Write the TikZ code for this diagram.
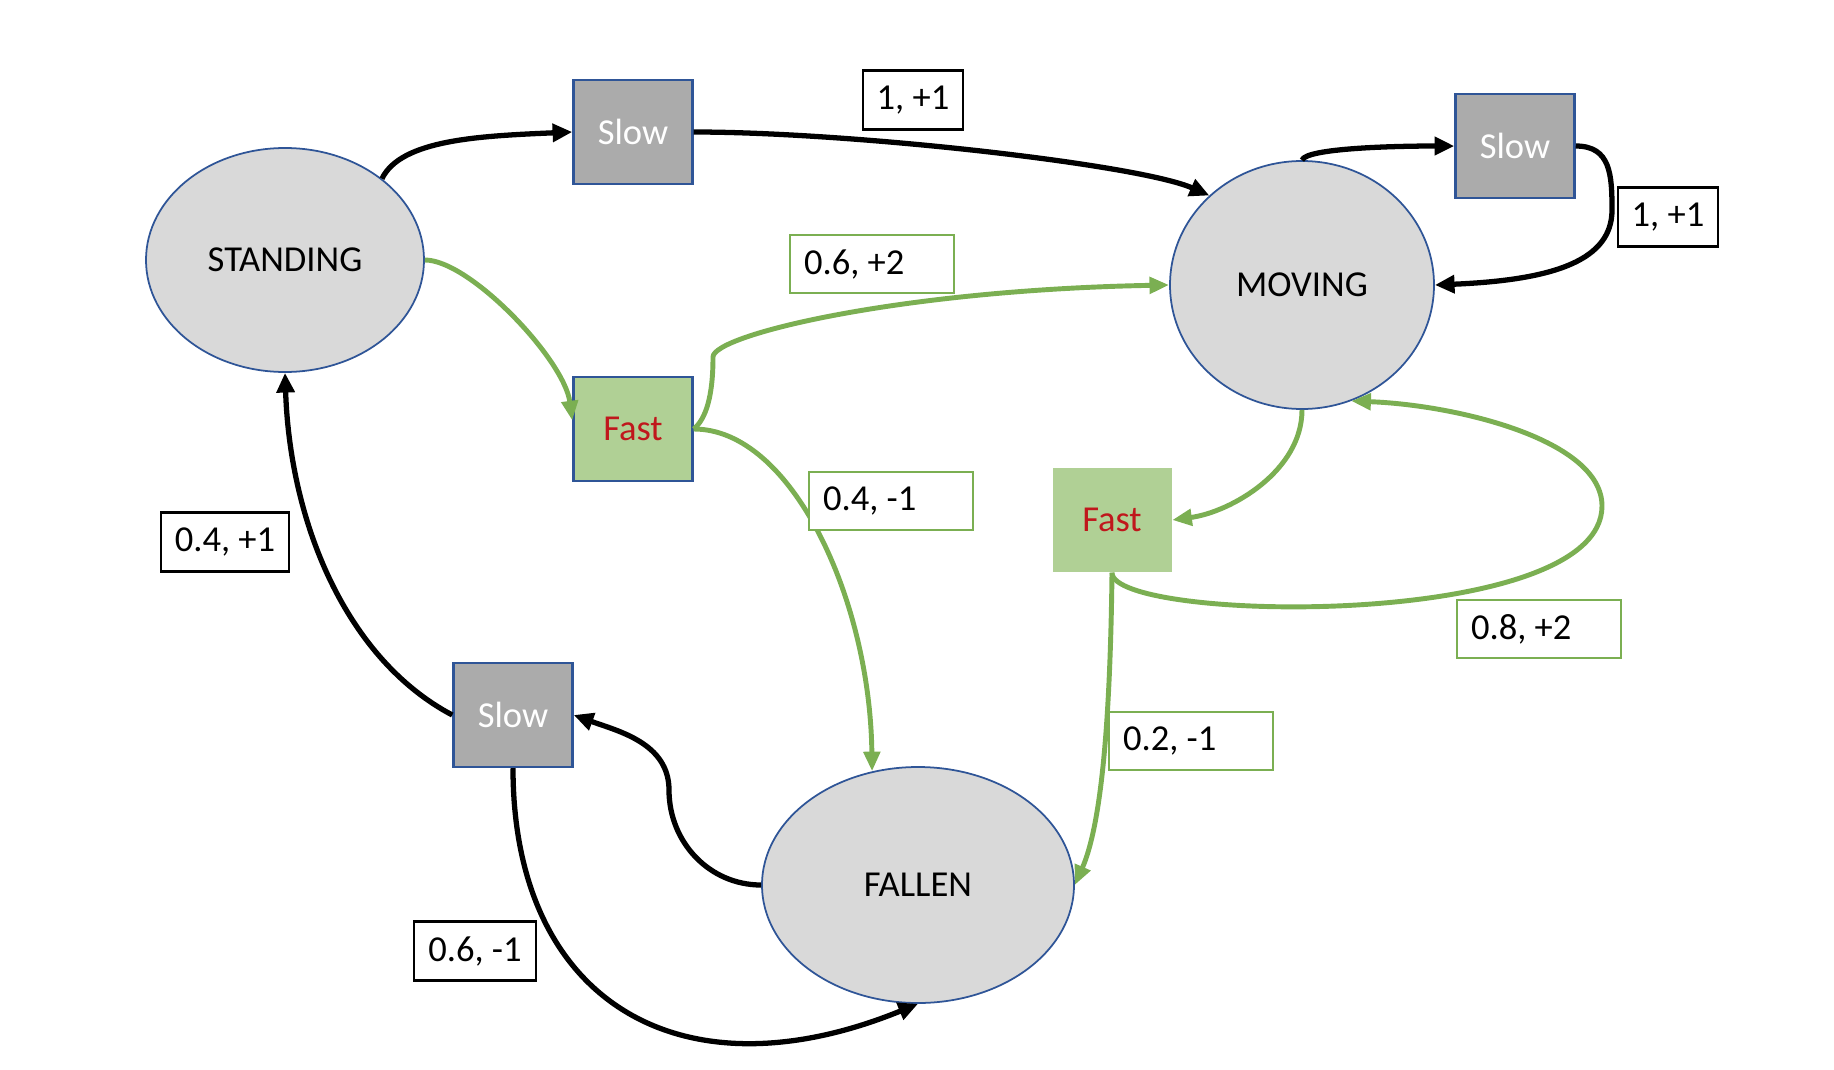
\documentclass[tikz,border=0pt]{standalone}
\usepackage{fontspec}
\setmainfont{Carlito}
\usetikzlibrary{arrows.meta,shapes.geometric}
\definecolor{stateblue}{HTML}{2F5597}
\definecolor{stategray}{HTML}{D9D9D9}
\definecolor{slowgray}{HTML}{ABABAB}
\definecolor{fastgreen}{HTML}{B0D095}
\definecolor{linkgreen}{HTML}{7BAF52}
\definecolor{fastred}{HTML}{C0171C}

\begin{document}
\begin{tikzpicture}[x=0.1mm,y=-0.1mm,
		every node/.style={font=\fontsize{10.4}{12.5}\selectfont\frenchspacing},
		state/.style={ellipse,draw=stateblue,line width=0.5pt,fill=stategray,inner sep=0pt},
		slowbox/.style={rectangle,draw=stateblue,line width=0.7pt,fill=slowgray,text=white,minimum width=11.9mm,minimum height=10.4mm},
		fastbox/.style={rectangle,fill=fastgreen,text=fastred,minimum width=11.9mm,minimum height=10.4mm},
		prob/.style={rectangle,draw=black,line width=0.6pt,fill=white,inner xsep=1.4mm,minimum height=5.9mm},
		gprob/.style={rectangle,draw=linkgreen,line width=0.6pt,fill=white,text width=13.6mm,align=flush left,inner xsep=1.4mm,minimum height=5.8mm},
		slowarr/.style={-{Triangle[length=5.6pt,width=5pt]},line width=1.5pt},
		fastarr/.style={-{Triangle[length=5.6pt,width=4.6pt]},line width=1.4pt,draw=linkgreen}]
		
		\useasboundingbox (0,0) rectangle (1834,1070);
		
		% States
		\node[state,minimum width=27.8mm,minimum height=22.4mm] (standing) at (285,260) {STANDING};
		\node[state,minimum width=26.4mm,minimum height=24.8mm] (moving) at (1302,285) {MOVING};
		\node[state,minimum width=31.2mm,minimum height=23.6mm] (fallen) at (918,885) {FALLEN};
		
		% Actions
		\node[slowbox] (slowS) at (633,132) {Slow};
		\node[slowbox] (slowM) at (1515,146) {Slow};
		\node[slowbox] (slowF) at (513,715) {Slow};
		\node[fastbox,draw=stateblue,line width=0.7pt] (fastS) at (633,429) {Fast};
		\node[fastbox] (fastM) at (1112,520) {Fast};
		
		% Bends of the longer curves
		\coordinate (rloop) at (1612,210);
		\coordinate (fbend) at (713,357);
		\coordinate (loopR) at (1602,506);
		\coordinate (sbend) at (669,790);
		
		% Slow transitions
		\draw[slowarr] (standing.40) .. controls +(19,-39) and +(-93,4) .. (slowS.west);
		\draw[slowarr] (slowS.east) .. controls +(158,0) and +(-70,-31) .. (moving.136);
		\draw[slowarr] (moving.north) .. controls +(4,-12) and +(-60,0) .. (slowM.west);
		\draw[slowarr] (slowM.east) .. controls +(35,0) and +(0,-35) .. (rloop)
		.. controls +(0,50) and +(120,-5) .. (moving.east);
		
		% Fast transitions
		\draw[fastarr] (standing.east) .. controls +(45,0) and +(-8,-61) .. (fastS.172);
		\draw[fastarr] (fastS.east) .. controls +(12,-10) and +(0,40) .. (fbend)
		.. controls +(0,-22) and +(-270,5) .. (moving.west);
		\draw[fastarr] (fastS.east) .. controls +(98,0) and +(-2,-172) .. (fallen.112);
		\draw[fastarr] (moving.south) .. controls +(0,61) and +(59,-8) .. (fastM.east);
		\draw[fastarr] (fastM.south) .. controls +(0,50) and +(0,125) .. (loopR)
		.. controls +(0,-66) and +(106,4) .. (moving.-67);
		\draw[fastarr] (fastM.south) .. controls +(-2,170) and +(24,-55) .. (fallen.east);
		
		% Getting up again
		\draw[slowarr] (fallen.west) .. controls +(-52,0) and +(0,52) .. (sbend)
		.. controls +(0,-47) and +(44,16) .. (slowF.east);
		\draw[slowarr] (slowF.south) .. controls +(0,233) and +(-238,97) .. (fallen.south);
		\draw[slowarr] (slowF.west) .. controls +(-106,-56) and +(5,150) .. (standing.south);
		
		% Probabilities and rewards
		\node[prob] (pSM) at (913,100) {1, +1};
		\node[prob] (pMM) at (1668,217) {1, +1};
		\node[prob] (pFS) at (225,542) {0.4, +1};
		\node[prob] (pFF) at (475,951) {0.6, -1};
		\node[gprob] (pSMf) at (872,264) {0.6, +2};
		\node[gprob] (pSF) at (891,501) {0.4, -1};
		\node[gprob] (pMMf) at (1539,629) {0.8, +2};
		\node[gprob] (pMF) at (1191,741) {0.2, -1};
		
	\end{tikzpicture}
\end{document}
